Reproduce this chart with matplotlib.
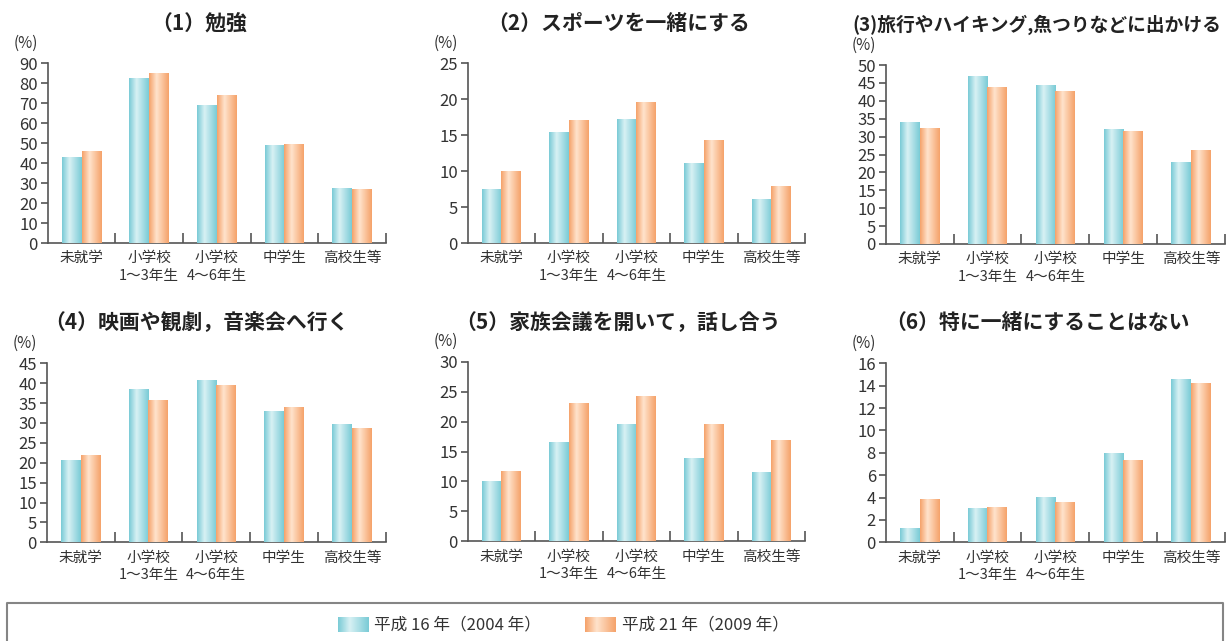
import numpy as np
import matplotlib
matplotlib.use('Agg')
import matplotlib.pyplot as plt
from matplotlib.colors import LinearSegmentedColormap
from matplotlib.lines import Line2D

plt.rcParams['font.family'] = ['Noto Sans CJK JP', 'DejaVu Sans']

# ---------------- data ----------------
categories = ['未就学', '小学校\n1～3年生', '小学校\n4～6年生', '中学生', '高校生等']
series_names = ['平成 16 年（2004 年）', '平成 21 年（2009 年）']
titles = ['（1）勉強',
          '（2）スポーツを一緒にする',
          '(3)旅行やハイキング,魚つりなどに出かける',
          '（4）映画や観劇，音楽会へ行く',
          '（5）家族会議を開いて，話し合う',
          '（6）特に一緒にすることはない']

study_2004 = [42.6, 82.6, 69.1, 48.6, 27.5]
study_2009 = [45.6, 85.1, 74.1, 49.1, 27.0]
sports_2004 = [7.5, 15.4, 17.25, 11.0, 6.0]
sports_2009 = [10.0, 17.0, 19.6, 14.3, 7.8]
travel_2004 = [33.8, 46.9, 44.4, 32.1, 22.9]
travel_2009 = [32.4, 43.6, 42.7, 31.3, 26.0]
movie_2004 = [20.45, 38.3, 40.6, 32.8, 29.5]
movie_2009 = [21.7, 35.5, 39.3, 33.8, 28.5]
meeting_2004 = [9.9, 16.4, 19.4, 13.7, 11.4]
meeting_2009 = [11.6, 22.9, 24.1, 19.4, 16.75]
nothing_2004 = [1.2, 3.0, 3.96, 7.9, 14.5]
nothing_2009 = [3.8, 3.07, 3.5, 7.27, 14.15]

y_max = [90, 25, 50, 45, 30, 16]
y_step = [10, 5, 5, 5, 5, 2]

panels = [(study_2004, study_2009), (sports_2004, sports_2009),
          (travel_2004, travel_2009), (movie_2004, movie_2009),
          (meeting_2004, meeting_2009), (nothing_2004, nothing_2009)]

# ---------------- style ----------------
W, H = 1229, 641
DPI = 100
fig = plt.figure(figsize=(W / DPI, H / DPI), dpi=DPI)

def frac_rect(l, r, t, b):
    return [l / W, 1 - b / H, (r - l) / W, (b - t) / H]

axes_px = [(47.7, 385.7, 63.3, 243.0),
           (467.7, 805.0, 63.3, 243.0),
           (885.7, 1225.0, 65.0, 244.0),
           (46.7, 385.7, 363.3, 542.3),
           (467.7, 805.0, 361.7, 541.3),
           (885.7, 1225.0, 363.3, 542.3)]
title_y = [23, 23, 25, 323, 323, 323]
title_size = [15, 15, 13.5, 15, 15, 15]
title_dx = [-18, -18, -19, -20, -18, -18]

blue_cmap = LinearSegmentedColormap.from_list(
    'b', [(0, '#7acbd6'), (0.38, '#d8f1f4'), (1, '#7acbd6')])
orange_cmap = LinearSegmentedColormap.from_list(
    'o', [(0, '#f5a26a'), (0.38, '#ffe3cc'), (1, '#f5a26a')])
cmaps = [blue_cmap, orange_cmap]
base_colors = ['#7acbd6', '#f5a26a']
grad = np.linspace(0, 1, 64).reshape(1, -1)

spine_c = '#555555'
text_c = '#333333'
bw = 0.29
x = np.arange(len(categories))

for i, (vals, rect) in enumerate(zip(panels, axes_px)):
    l, r, t, b = rect
    ax = fig.add_axes(frac_rect(l, r, t, b))
    for k, series in enumerate(vals):
        bars = ax.bar(x + (k - 0.5) * bw, series, width=bw,
                      color=base_colors[k], zorder=2, linewidth=0)
        for p in bars:
            x0, w, h = p.get_x(), p.get_width(), p.get_height()
            ax.imshow(grad, cmap=cmaps[k], extent=(x0, x0 + w, 0, h),
                      aspect='auto', zorder=3, interpolation='bilinear')
    ax.set_xlim(-0.5, len(categories) - 0.5)
    ax.set_ylim(0, y_max[i])
    ax.set_yticks(np.arange(0, y_max[i] + y_step[i] / 2, y_step[i]))
    ax.set_xticks(x)
    ax.set_xticklabels(categories, fontsize=10.5, color=text_c, linespacing=1.3)
    ax.set_xticks(np.arange(0.5, len(categories), 1), minor=True)
    ax.tick_params(axis='x', which='major', length=0, pad=6)
    ax.tick_params(axis='x', which='minor', direction='in', length=7,
                   width=1.2, color=spine_c)
    ax.tick_params(axis='y', direction='out', length=5, width=1.2,
                   color=spine_c, pad=2, labelsize=12, labelcolor=text_c)
    for s in ['top', 'right']:
        ax.spines[s].set_visible(False)
    for s in ['left', 'bottom']:
        ax.spines[s].set_color(spine_c)
        ax.spines[s].set_linewidth(1.2)
    # title and unit
    fig.text(((l + r) / 2 + title_dx[i]) / W, 1 - title_y[i] / H, titles[i],
             ha='center', va='center', fontsize=title_size[i],
             fontweight='bold', color='#222222')
    fig.text((l - 34) / W, 1 - (t - 20) / H, '(%)', ha='left', va='center',
             fontsize=11, color=text_c)

# ---------------- legend ----------------
box_x = [7.3, 7.3, 1223, 1223]
box_y = [650, 603, 603, 650]
fig.add_artist(Line2D([v / W for v in box_x], [1 - v / H for v in box_y],
                      transform=fig.transFigure, color='#858585', lw=1.5))

sw = [(337.7, 368.3), (585.0, 616.0)]
tx = [374, 622]
for k in range(2):
    sax = fig.add_axes(frac_rect(sw[k][0], sw[k][1], 617, 632))
    sax.imshow(grad, cmap=cmaps[k], aspect='auto', interpolation='bilinear')
    sax.axis('off')
    fig.text(tx[k] / W, 1 - 624.5 / H, series_names[k], ha='left', va='center',
             fontsize=12, color=text_c)

fig.savefig('out.png', dpi=DPI)
